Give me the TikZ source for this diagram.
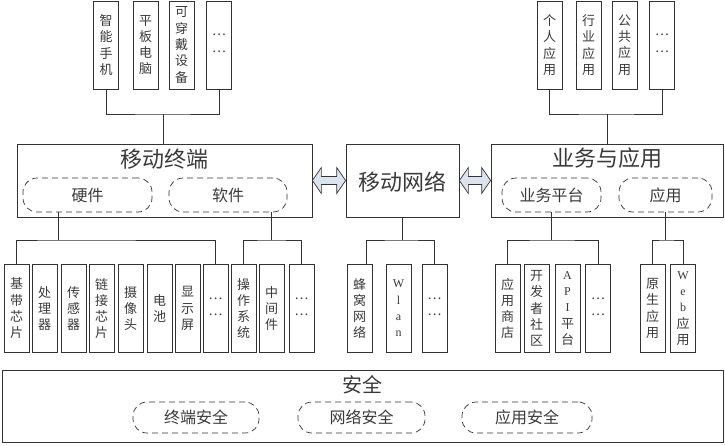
\documentclass[tikz,border=0pt]{standalone}
\usepackage{fontspec}
\newfontfamily\cjk{Noto Sans CJK SC}
\newfontfamily\lat{Liberation Serif}
\usetikzlibrary{calc}
\definecolor{arrowfill}{HTML}{DDE3EC}
\definecolor{ink}{HTML}{3A3A3A}
\newcommand\mydots{\raisebox{0.3em}{…}}
\begin{document}
\begin{tikzpicture}[x=1pt,y=-1pt,
 every node/.style={text=ink},
 vbox/.style={draw=black!80, line width=0.7pt, minimum width=25pt, minimum height=88pt, inner sep=0pt, align=center, font=\cjk\fontsize{13}{16.3}\selectfont},
 bigbox/.style={draw=black!80, line width=0.7pt, inner sep=0pt},
 oval/.style={draw=black!80, dash pattern=on 6pt off 4pt, line width=0.7pt, rounded corners=14pt, inner sep=0pt, minimum height=34pt, font=\cjk\fontsize{16}{16}\selectfont},
 soval/.style={oval, minimum height=31pt},
 title/.style={font=\cjk\fontsize{22}{22}\selectfont, inner sep=0pt},
 link/.style={draw=black!80, line width=0.7pt},
 dblarrow/.style={draw=black!80, line width=0.7pt, fill=arrowfill, line join=miter},
]
\useasboundingbox (0,0) rectangle (725,445);

% top-left devices
\node[vbox] (t1) at (106,45) {智\\能\\手\\机};
\node[vbox] (t2) at (145.5,45) {平\\板\\电\\脑};
\node[vbox] (t3) at (181.5,45) {可\\穿\\戴\\设\\备};
\node[vbox] (t4) at (219,45) {\mydots\\\mydots};

% top-right applications
\node[vbox] (r1) at (549.5,45) {个\\人\\应\\用};
\node[vbox] (r2) at (588.5,45) {行\\业\\应\\用};
\node[vbox] (r3) at (624.5,45) {公\\共\\应\\用};
\node[vbox] (r4) at (662,45) {\mydots\\\mydots};

% middle big boxes
\node[bigbox, minimum width=295pt, minimum height=73pt] (mt) at (164.5,180.5) {};
\node[title] (mtt) at (164.5,159) {移动终端};
\node[oval, minimum width=129pt] (hw) at (87.5,195) {硬件};
\node[oval, minimum width=118pt] (sw) at (228,195) {软件};

\node[bigbox, minimum width=113pt, minimum height=73pt] (mn) at (402.5,180.5) {};
\node[title] (mnt) at (402.5,182) {移动网络};

\node[bigbox, minimum width=232pt, minimum height=73pt] (ba) at (607,180.5) {};
\node[title] (bat) at (607,158) {业务与应用};
\node[oval, minimum width=99pt] (bp) at (551.5,195) {业务平台};
\node[oval, minimum width=93pt] (ap) at (665.5,195) {应用};

% bottom row
\node[vbox] (b1) at (16.5,308.5) {基\\带\\芯\\片};
\node[vbox] (b2) at (44.5,308.5) {处\\理\\器};
\node[vbox] (b3) at (73.5,308.5) {传\\感\\器};
\node[vbox] (b4) at (101.5,308.5) {链\\接\\芯\\片};
\node[vbox] (b5) at (130.5,308.5) {摄\\像\\头};
\node[vbox] (b6) at (159.5,308.5) {电\\池};
\node[vbox] (b7) at (187.5,308.5) {显\\示\\屏};
\node[vbox] (b8) at (215.5,308.5) {\mydots\\\mydots};
\node[vbox] (b9) at (243.5,308.5) {操\\作\\系\\统};
\node[vbox] (b10) at (271.5,308.5) {中\\间\\件};
\node[vbox] (b11) at (301.5,308.5) {\mydots\\\mydots};

\node[vbox] (n1) at (359.5,308.5) {蜂\\窝\\网\\络};
\node[vbox] (n2) at (398.5,308.5) {{\lat\fontsize{12}{16.3}\selectfont W}\\{\lat\fontsize{12}{16.3}\selectfont l}\\{\lat\fontsize{12}{16.3}\selectfont a}\\{\lat\fontsize{12}{16.3}\selectfont n}};
\node[vbox] (n3) at (434.5,308.5) {\mydots\\\mydots};

\node[vbox] (a1) at (507.5,308.5) {应\\用\\商\\店};
\node[vbox] (a2) at (536.5,308.5) {开\\发\\者\\社\\区};
\node[vbox] (a3) at (567.5,308.5) {{\lat\fontsize{12}{16.3}\selectfont A}\\{\lat\fontsize{12}{16.3}\selectfont P}\\{\lat\fontsize{12}{16.3}\selectfont I}\\平\\台};
\node[vbox] (a4) at (598,308.5) {\mydots\\\mydots};

\node[vbox] (w1) at (652.5,308.5) {原\\生\\应\\用};
\node[vbox] (w2) at (683,308.5) {{\lat\fontsize{12}{16.3}\selectfont W}\\{\lat\fontsize{12}{16.3}\selectfont e}\\{\lat\fontsize{12}{16.3}\selectfont b}\\应\\用};

% security
\node[bigbox, minimum width=721pt, minimum height=72pt] (sec) at (362.5,406) {};
\node[title, font=\cjk\fontsize{20}{20}\selectfont] (sect) at (362.5,385) {安全};
\node[soval, minimum width=126pt] (s1) at (196,417.5) {终端安全};
\node[soval, minimum width=127pt] (s2) at (361.5,417.5) {网络安全};
\node[soval, minimum width=130pt] (s3) at (527,417.5) {应用安全};

% top connectors
\coordinate (jt) at (163,114);
\draw[link] (t1.south) |- (jt) -| (t4.south);
\draw[link] (jt) -- (jt |- mt.north);
\coordinate (jr) at (607,114);
\draw[link] (r1.south) |- (jr) -| (r4.south);
\draw[link] (jr) -- (ba.north);

% bottom connectors
\coordinate (jb1) at (58,240);
\draw[link] ([xshift=-29.5pt]hw.south) -- (jb1);
\draw[link] (b1.north) |- (jb1) -| (b8.north);
\coordinate (jb2) at (271,240);
\draw[link] ([xshift=43pt]sw.south) -- (jb2);
\draw[link] (b9.north) |- (jb2) -| (b11.north);
\coordinate (jb3) at (402.5,240);
\draw[link] (mn.south) -- (jb3);
\draw[link] ([xshift=7pt]n1.north) |- (jb3) -| (n3.north);
\coordinate (jb4) at (551.5,240);
\draw[link] (bp.south) -- (jb4);
\draw[link] (a1.north) |- (jb4) -| (a4.north);
\coordinate (jb5) at (665.5,240);
\draw[link] (ap.south) -- (jb5);
\draw[link] (w1.north) |- (jb5) -| (w2.north);

% double arrows
\draw[dblarrow] (mt.east) -- ++(9,-13) -- ++(0,9) -- ($(mn.west)+(-9,-4)$) -- ++(0,-9) -- (mn.west) -- ++(-9,13) -- ++(0,-9) -- ($(mt.east)+(9,4)$) -- ++(0,9) -- cycle;
\draw[dblarrow] (mn.east) -- ++(9,-13) -- ++(0,9) -- ($(ba.west)+(-9,-4)$) -- ++(0,-9) -- (ba.west) -- ++(-9,13) -- ++(0,-9) -- ($(mn.east)+(9,4)$) -- ++(0,9) -- cycle;
\end{tikzpicture}
\end{document}
